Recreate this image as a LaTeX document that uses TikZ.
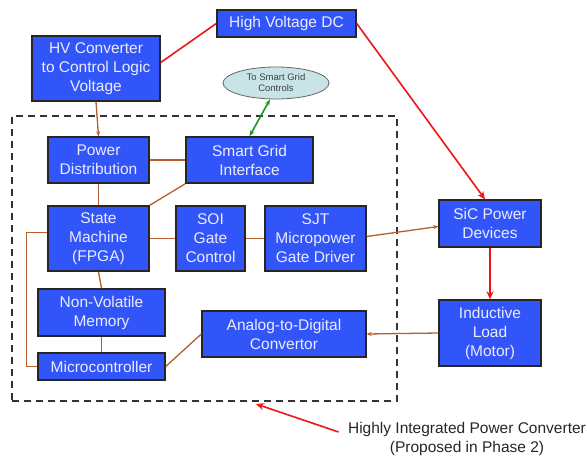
\documentclass[tikz,border=0pt]{standalone}
\usepackage{fontspec}
\setmainfont{Liberation Sans}
\usepackage{xcolor}
\usetikzlibrary{arrows.meta,positioning,shapes.geometric}

\definecolor{boxblue}{RGB}{50,85,250}
\definecolor{boxtext}{RGB}{236,236,255}
\definecolor{linkbrown}{RGB}{180,95,45}
\definecolor{hvred}{RGB}{240,20,20}
\definecolor{gridgreen}{RGB}{30,150,30}
\definecolor{cloudfill}{RGB}{200,228,230}

\begin{document}
\begin{tikzpicture}[
    x=1pt, y=-1pt,
    every node/.style={font=\fontsize{15.5}{19}\selectfont},
    blockbox/.style={
      rectangle, draw=black!85, line width=1.4pt, fill=boxblue,
      text=boxtext, align=center, inner sep=0pt
    },
    cloud/.style={
      ellipse, draw=gray!80!black, thick, fill=cloudfill, inner sep=0pt,
      align=center, font=\fontsize{9.5}{11}\selectfont, text=black!75
    },
    link/.style={line width=1.3pt, linkbrown},
    linkarr/.style={link, -{Stealth[length=5pt,width=4pt]}},
    hvline/.style={line width=1.6pt, hvred},
    hvarr/.style={hvline, -{Stealth[length=8pt,width=7pt]}},
    gridarr/.style={{Stealth[length=6pt]}-{Stealth[length=6pt]}, line width=1.6pt, gridgreen}
  ]
    \useasboundingbox (0,0) rectangle (587,458);

    % Converter boundary
    \node[draw=black!80, dashed, dash pattern=on 7pt off 5pt, line width=1.4pt,
          minimum width=385pt, minimum height=285pt] (conv) at (204.5,258.5) {};

    % Supply side
    \node[blockbox, minimum width=139pt, minimum height=27pt] (hvdc) at (286.5,23.5) {High Voltage DC};
    \node[blockbox, minimum width=128pt, minimum height=65pt] (hvconv) at (96,68.5)
      {HV Converter\\to Control Logic\\Voltage};
    \node[cloud, minimum width=106pt, minimum height=32pt] (ctrl) at (276,83)
      {To Smart Grid\\Controls};

    % Inside the converter
    \node[blockbox, minimum width=101pt, minimum height=46pt] (pdist) at (98.5,160) {Power\\Distribution};
    \node[blockbox, minimum width=127pt, minimum height=46pt] (sgi) at (249.5,160) {Smart Grid\\Interface};
    \node[blockbox, minimum width=101pt, minimum height=65pt] (fsm) at (98.5,238.5) {State\\Machine\\(FPGA)};
    \node[blockbox, minimum width=69pt, minimum height=65pt] (soi) at (210.5,238.5) {SOI\\Gate\\Control};
    \node[blockbox, minimum width=101pt, minimum height=65pt] (sjt) at (315.5,238.5) {SJT\\Micropower\\Gate Driver};
    \node[blockbox, minimum width=127pt, minimum height=47pt] (nvm) at (101.5,312.5) {Non-Volatile\\Memory};
    \node[blockbox, minimum width=127pt, minimum height=27pt] (mcu) at (101.5,366.5) {Microcontroller};
    \node[blockbox, minimum width=164pt, minimum height=46pt] (adc) at (284,334) {Analog-to-Digital\\Convertor};

    % Power stage
    \node[blockbox, minimum width=102pt, minimum height=47pt] (sic) at (490,223.5) {SiC Power\\Devices};
    \node[blockbox, minimum width=102pt, minimum height=66pt] (load) at (490,333) {Inductive\\Load\\(Motor)};

    \node[align=center, text=black!85] (cap) at (467,439)
      {Highly Integrated Power Converter\\(Proposed in Phase 2)};

    % High voltage paths
    \draw[hvline] (hvdc.west) -- ([yshift=6pt]hvconv.east);
    \draw[hvarr] (hvdc.east) -- ([xshift=-5pt]sic.north);
    \draw[hvarr] (sic.south) -- (load.north);

    % Control logic links
    \draw[linkarr] (hvconv.south) -- (pdist.north);
    \draw[link] (pdist.east) -- (sgi.west);
    \draw[link] (pdist.south) -- (fsm.north);
    \draw[link] (sgi.south west) -- (fsm.north east);
    \draw[gridarr] ([xshift=-6pt]ctrl.south) -- (sgi.north);
    \draw[link] (fsm.east) -- (soi.west);
    \draw[link] (soi.east) -- (sjt.west);
    \draw[linkarr] ([yshift=2pt]sjt.east) -- ([yshift=-3pt]sic.west);
    \draw[link] (fsm.south) -- (nvm.north);
    \draw[link] (nvm.south) -- (mcu.north);
    \draw[link] ([yshift=6pt]fsm.west) -- ++(-21,0) |- (mcu.west);
    \draw[link] (mcu.east) -- (adc.west);
    \draw[linkarr] (load.west) -- (adc.east);

    % Caption pointer
    \coordinate (tip) at (256,404);
    \draw[hvarr] ([xshift=-6pt,yshift=7pt]cap.west) -- (tip);
\end{tikzpicture}
\end{document}
